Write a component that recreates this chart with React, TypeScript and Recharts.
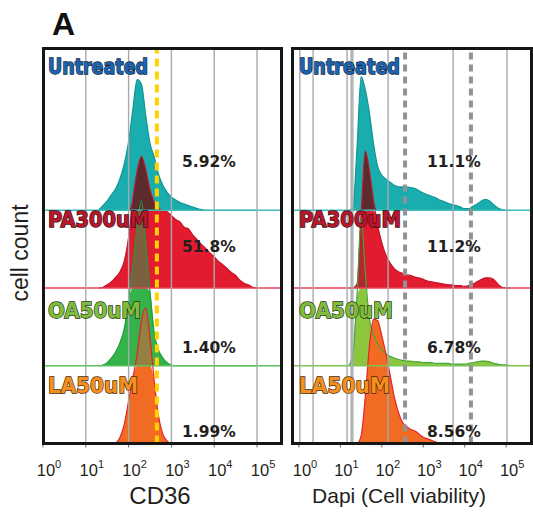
import React from 'react'
import { ComposedChart, Area, Line, XAxis, YAxis, ReferenceLine } from 'recharts'

const W = 533
const H = 513

// CD36 histograms: x = log10(intensity), values = height in strip units
const cd36Log = [1.3, 1.4, 1.5, 1.6, 1.7, 1.8, 1.9, 2.0, 2.1, 2.2, 2.3, 2.4, 2.5, 2.6, 2.7, 2.8, 2.9, 3.0, 3.1, 3.2, 3.3, 3.4, 3.5, 3.6, 3.7, 3.8, 3.9, 4.0, 4.1, 4.2, 4.3, 4.4, 4.5, 4.6, 4.7, 4.8, 4.9, 5.0]
const cd36Untreated = [0, 0.06, 0.12, 0.2, 0.28, 0.41, 0.6, 0.88, 1.3, 1.68, 1.62, 1.22, 0.86, 0.68, 0.46, 0.32, 0.23, 0.17, 0.13, 0.1, 0.08, 0.06, 0.04, 0.02, 0.01, 0, 0, 0, 0, 0, 0, 0, 0, 0, 0, 0, 0, 0]
const cd36PA300 = [0, 0.01, 0.04, 0.08, 0.14, 0.21, 0.35, 0.65, 1.15, 1.5, 1.69, 1.52, 1.26, 1.1, 1.02, 1.0, 0.98, 0.93, 0.88, 0.85, 0.78, 0.76, 0.68, 0.62, 0.56, 0.51, 0.45, 0.4, 0.34, 0.3, 0.25, 0.2, 0.16, 0.1, 0.06, 0.04, 0.01, 0]
const cd36OA50 = [0, 0.01, 0.04, 0.1, 0.18, 0.3, 0.48, 0.85, 1.3, 1.8, 2.12, 1.6, 0.95, 0.42, 0.2, 0.1, 0.04, 0.01, 0, 0, 0, 0, 0, 0, 0, 0, 0, 0, 0, 0, 0, 0, 0, 0, 0, 0, 0, 0]
const cd36LA50 = [0, 0, 0, 0, 0.01, 0.08, 0.25, 0.55, 0.85, 1.15, 1.58, 1.74, 1.35, 0.8, 0.35, 0.12, 0.03, 0, 0, 0, 0, 0, 0, 0, 0, 0, 0, 0, 0, 0, 0, 0, 0, 0, 0, 0, 0, 0]

// Dapi histograms
const dapiLog = [1.2, 1.3, 1.4, 1.5, 1.6, 1.7, 1.8, 1.9, 2.0, 2.1, 2.2, 2.3, 2.4, 2.5, 2.6, 2.7, 2.8, 2.9, 3.0, 3.1, 3.2, 3.3, 3.4, 3.5, 3.6, 3.7, 3.8, 3.9, 4.0, 4.1, 4.2, 4.3, 4.4, 4.5, 4.6, 4.7, 4.8, 4.9, 5.0, 5.1]
const dapiUntreated = [0, 0.03, 0.8, 1.72, 1.55, 1.25, 0.85, 0.56, 0.45, 0.4, 0.36, 0.32, 0.3, 0.3, 0.3, 0.29, 0.28, 0.25, 0.22, 0.2, 0.18, 0.16, 0.13, 0.11, 0.09, 0.07, 0.06, 0.04, 0.02, 0.02, 0.05, 0.08, 0.12, 0.14, 0.12, 0.07, 0.03, 0.01, 0, 0]
const dapiPA300 = [0, 0, 0.05, 0.95, 1.76, 1.5, 1.12, 0.8, 0.58, 0.42, 0.32, 0.25, 0.21, 0.19, 0.17, 0.16, 0.14, 0.13, 0.11, 0.09, 0.08, 0.07, 0.06, 0.05, 0.04, 0.04, 0.03, 0.03, 0.02, 0.03, 0.05, 0.08, 0.11, 0.13, 0.13, 0.11, 0.05, 0.01, 0, 0]
const dapiOA50 = [0, 0.15, 0.9, 1.9, 1.2, 0.6, 0.4, 0.28, 0.2, 0.15, 0.12, 0.1, 0.08, 0.07, 0.06, 0.06, 0.05, 0.05, 0.04, 0.04, 0.04, 0.03, 0.03, 0.03, 0.03, 0.02, 0.02, 0.02, 0.02, 0.03, 0.04, 0.05, 0.06, 0.06, 0.05, 0.03, 0.02, 0.01, 0.01, 0]
const dapiLA50 = [0, 0, 0, 0.1, 0.6, 1.25, 1.6, 1.58, 1.38, 1.15, 0.88, 0.6, 0.4, 0.27, 0.22, 0.18, 0.16, 0.12, 0.08, 0.06, 0.04, 0.02, 0, 0, 0, 0, 0, 0, 0, 0, 0, 0, 0, 0, 0, 0, 0, 0, 0, 0]

const treatments = ['Untreated', 'PA300uM', 'OA50uM', 'LA50uM']
const cd36Pct = ['5.92%', '51.8%', '1.40%', '1.99%']
const dapiPct = ['11.1%', '11.2%', '6.78%', '8.56%']
const decades = [0, 1, 2, 3, 4, 5]
const cd36GridLines = [1, 2, 3, 4, 5]
const dapiGridLines = [0.02, 0.34, 1.16, 1.26, 1.3, 2.15, 3.72, 5.02]
const cd36Gates = [2.66]
const dapiGates = [2.56, 4.15]

const sans = "'Liberation Sans', Arial, Helvetica, sans-serif"
const heavy = "'DejaVu Sans', Verdana, sans-serif"

// strips stacked top->bottom; main part stays in its strip, overlap is the part reaching into the strip above
function buildRows(xs: number[], strips: number[][], clamps: boolean[]) {
  return xs.map((x, i) => {
    const row: Record<string, any> = { x }
    strips.forEach((vals, s) => {
      const base = strips.length - 1 - s
      const h = vals[i]
      row[`m${s}`] = [base, base + (clamps[s] ? Math.min(h, 1) : h)]
      row[`o${s}`] = [base + 1, Math.min(base + Math.max(h, 1), base + 2)]
      row[`t${s}`] = base + h
    })
    return row
  })
}

const cd36Rows = buildRows(cd36Log, [cd36Untreated, cd36PA300, cd36OA50, cd36LA50], [false, true, true, true])
const dapiRows = buildRows(dapiLog, [dapiUntreated, dapiPA300, dapiOA50, dapiLA50], [false, true, true, false])

const DecadeTick = ({ x, y, payload }: any) => (
  <text x={x + 6} y={y + 28} textAnchor="middle" fontFamily={sans} fontSize={16.5} fill="#231f20">
    10<tspan dy={-8} fontSize={11}>{payload.value}</tspan>
  </text>
)

function Panel({ rows, domain, left, right, fills, lines, overlaps, baseColors, grid, gates, gateColor, gateDash }: any) {
  const series = fills.flatMap((f: string, s: number) => {
    const items = [
      <Area key={`m${s}`} type="monotone" dataKey={(d: any) => d[`m${s}`]} fill={f} fillOpacity={1} stroke="none" dot={false} activeDot={false} isAnimationActive={false} />,
    ]
    if (overlaps[s]) {
      items.push(
        <Area key={`o${s}`} type="monotone" dataKey={(d: any) => d[`o${s}`]} fill={overlaps[s]} fillOpacity={1} stroke="none" dot={false} activeDot={false} isAnimationActive={false} />
      )
    }
    items.push(
      <Line key={`t${s}`} type="monotone" dataKey={(d: any) => d[`t${s}`]} stroke={lines[s]} strokeWidth={1.2} dot={false} activeDot={false} isAnimationActive={false} />
    )
    return items
  })
  return (
    <div style={{ position: 'absolute', left: 0, top: 0 }}>
      <ComposedChart width={W} height={H} data={rows} margin={{ top: 48.5, right, bottom: 29.5, left }}>
        <XAxis
          type="number"
          dataKey="x"
          domain={domain}
          allowDataOverflow
          ticks={decades}
          interval={0}
          axisLine={false}
          tickLine={{ stroke: '#666', strokeWidth: 1 }}
          tickSize={4}
          tickMargin={0}
          height={40}
          tick={(p: any) => <DecadeTick {...p} />}
        />
        <YAxis type="number" domain={[0, 5.08]} hide allowDataOverflow />
        {series}
        {baseColors.map((c: string, i: number) => (
          <ReferenceLine key={`b${i}`} y={3 - i} stroke={c} strokeWidth={1.5} />
        ))}
        {grid.map((g: number) => (
          <ReferenceLine key={`g${g}`} x={g} stroke="#a6aaad" strokeWidth={1.4} />
        ))}
        {gates.map((g: number) => (
          <ReferenceLine key={`d${g}`} x={g} stroke={gateColor} strokeWidth={4} strokeDasharray={gateDash} />
        ))}
      </ComposedChart>
    </div>
  )
}

const labelColors = [
  { fill: '#1d62ad', stroke: '#0d2440' },
  { fill: '#b3182d', stroke: '#3d0a10' },
  { fill: '#7fbc3e', stroke: '#26360f' },
  { fill: '#f3901f', stroke: '#4a2806' },
]
const labelWidths = [100, 101, 93, 90]
const labelBaselines = [74, 227, 318, 393]
const pctBaselines = [167, 252, 353, 437]

export default function App() {
  return (
    <div style={{ position: 'absolute', left: 0, top: 0, width: W, height: H, background: '#fff' }}>
      <Panel
        rows={cd36Rows}
        domain={[0, 5.56]}
        left={43}
        right={W - 281}
        fills={['#19adad', '#e31b2f', '#34b34a', '#f26b22']}
        lines={['#109795', '#c4142b', '#1e9b3c', '#e8202e']}
        overlaps={[null, '#5d2a2d', '#7d6040', '#948042']}
        baseColors={['#3cbcbb', '#e5425a', '#5cc25a']}
        grid={cd36GridLines}
        gates={cd36Gates}
        gateColor="#ffd200"
        gateDash="8 5"
      />
      <Panel
        rows={dapiRows}
        domain={[-0.145, 5.6]}
        left={293}
        right={W - 531}
        fills={['#19adad', '#e31b2f', '#8cc63f', '#f26b22']}
        lines={['#109795', '#c4142b', '#3fa83a', '#e8202e']}
        overlaps={[null, '#5d2a2d', '#b3262f', null]}
        baseColors={['#3cbcbb', '#e5425a', '#7cc550']}
        grid={dapiGridLines}
        gates={dapiGates}
        gateColor="#929395"
        gateDash="7 5"
      />
      <div style={{ position: 'absolute', left: 42.25, top: 46.75, width: 240.5, height: 398.5, border: '3.5px solid #161616', boxSizing: 'border-box' }} />
      <div style={{ position: 'absolute', left: 291.25, top: 46.75, width: 241.5, height: 398.5, border: '3.5px solid #161616', boxSizing: 'border-box' }} />
      <svg width={W} height={H} style={{ position: 'absolute', left: 0, top: 0, pointerEvents: 'none' }}>
        <text x={52} y={35} fontFamily={sans} fontWeight="bold" fontSize={32} fill="#111">A</text>
        {treatments.map((t, i) => (
          <g key={t}>
            <text x={48} y={labelBaselines[i]} fontFamily={heavy} fontWeight="bold" fontSize={21} textLength={labelWidths[i]} lengthAdjust="spacingAndGlyphs" fill={labelColors[i].fill} stroke={labelColors[i].stroke} strokeWidth={1.4} paintOrder="stroke">{t}</text>
            <text x={299} y={labelBaselines[i]} fontFamily={heavy} fontWeight="bold" fontSize={21} textLength={labelWidths[i] + 1} lengthAdjust="spacingAndGlyphs" fill={labelColors[i].fill} stroke={labelColors[i].stroke} strokeWidth={1.4} paintOrder="stroke">{t}</text>
            <text x={182} y={pctBaselines[i]} fontFamily={heavy} fontWeight="bold" fontSize={15.5} fill="#231f20">{cd36Pct[i]}</text>
            <text x={427} y={pctBaselines[i]} fontFamily={heavy} fontWeight="bold" fontSize={15.5} fill="#231f20">{dapiPct[i]}</text>
          </g>
        ))}
        <text transform="translate(28,253) rotate(-90)" textAnchor="middle" fontFamily={sans} fontSize={23} fill="#231f20">cell count</text>
        <text x={160} y={504} textAnchor="middle" fontFamily={sans} fontSize={24} fill="#231f20">CD36</text>
        <text x={399} y={503} textAnchor="middle" fontFamily={sans} fontSize={21} fill="#231f20">Dapi (Cell viability)</text>
      </svg>
    </div>
  )
}
